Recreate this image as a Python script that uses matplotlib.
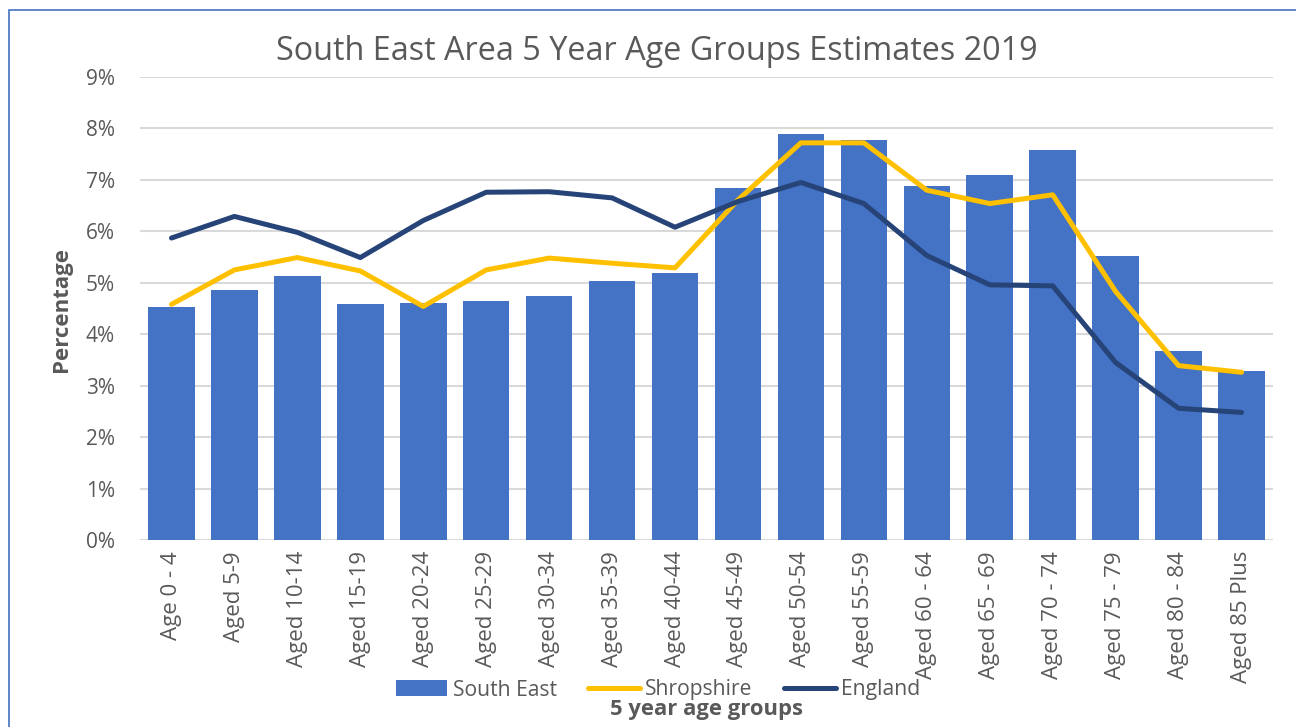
import matplotlib.pyplot as plt
from matplotlib.patches import Rectangle
from matplotlib.ticker import PercentFormatter

plt.rcParams['font.family'] = ['Open Sans', 'DejaVu Sans']

# age groups
groups = ['Age 0 - 4', 'Aged 5-9', 'Aged 10-14', 'Aged 15-19', 'Aged 20-24',
          'Aged 25-29', 'Aged 30-34', 'Aged 35-39', 'Aged 40-44', 'Aged 45-49',
          'Aged 50-54', 'Aged 55-59', 'Aged 60 - 64', 'Aged 65 - 69',
          'Aged 70 - 74', 'Aged 75 - 79', 'Aged 80 - 84', 'Aged 85 Plus']

# percentages
south_east = [4.52, 4.86, 5.14, 4.59, 4.60, 4.65, 4.75, 5.03, 5.19, 6.85,
              7.90, 7.78, 6.89, 7.10, 7.59, 5.53, 3.68, 3.29]
shropshire = [4.58, 5.25, 5.49, 5.23, 4.54, 5.25, 5.48, 5.38, 5.29, 6.61,
              7.72, 7.72, 6.80, 6.54, 6.71, 4.83, 3.39, 3.26]
england = [5.87, 6.29, 5.98, 5.49, 6.21, 6.76, 6.77, 6.65, 6.08, 6.58,
           6.95, 6.54, 5.53, 4.96, 4.94, 3.45, 2.56, 2.48]

grey = '#595959'

fig = plt.figure(figsize=(12.96, 7.27), dpi=100)
ax = fig.add_axes([140/1296, 1 - 540/727, 1133/1296, 463/727])

x = range(len(groups))
bars = ax.bar(x, south_east, width=0.74, color='#4472C4', label='South East', zorder=2)
l1, = ax.plot(x, shropshire, color='#FFC000', lw=3.6, solid_capstyle='round',
              solid_joinstyle='round', label='Shropshire', zorder=3)
l2, = ax.plot(x, england, color='#264478', lw=3.6, solid_capstyle='round',
              solid_joinstyle='round', label='England', zorder=3)

ax.set_xlim(-0.5, len(groups) - 0.5)
ax.set_ylim(0, 9)
ax.set_yticks(range(10))
ax.yaxis.set_major_formatter(PercentFormatter(decimals=0))
ax.set_xticks(list(x))
ax.set_xticklabels(groups, rotation=90, va='top', ha='center')
ax.tick_params(axis='y', length=0, pad=18, labelsize=15, labelcolor=grey)
ax.tick_params(axis='x', length=0, pad=8, labelsize=16, labelcolor=grey)
ax.grid(axis='y', color='#D9D9D9', lw=1.5, zorder=0)
for s in ax.spines.values():
    s.set_visible(False)

fig.text(657/1296, 1 - 52/727, 'South East Area 5 Year Age Groups Estimates 2019',
         ha='center', va='center', fontsize=23.3, color=grey)
fig.text(62/1296, 1 - 309/727, 'Percentage', rotation=90, ha='center',
         va='center', fontsize=16, fontweight='bold', color=grey)
fig.text(706/1296, 1 - 710/727, '5 year age groups', ha='center', va='center',
         fontsize=15.8, fontweight='bold', color=grey)

fig.legend([bars, l1, l2], ['South East', 'Shropshire', 'England'],
           loc='center', bbox_to_anchor=(658/1296, 1 - 690/727), ncol=3,
           frameon=False, fontsize=15.2, labelcolor=grey, handlelength=2.45,
           handleheight=0.75, handletextpad=0.25, columnspacing=1.5,
           borderpad=0, borderaxespad=0)

# outer chart border
fig.add_artist(Rectangle((9/1296, -0.1), 1.2, 1 - 10/727 + 0.1,
                         transform=fig.transFigure, fill=False,
                         edgecolor='#4472C4', lw=1.2))

fig.savefig('out.png', dpi=100)
